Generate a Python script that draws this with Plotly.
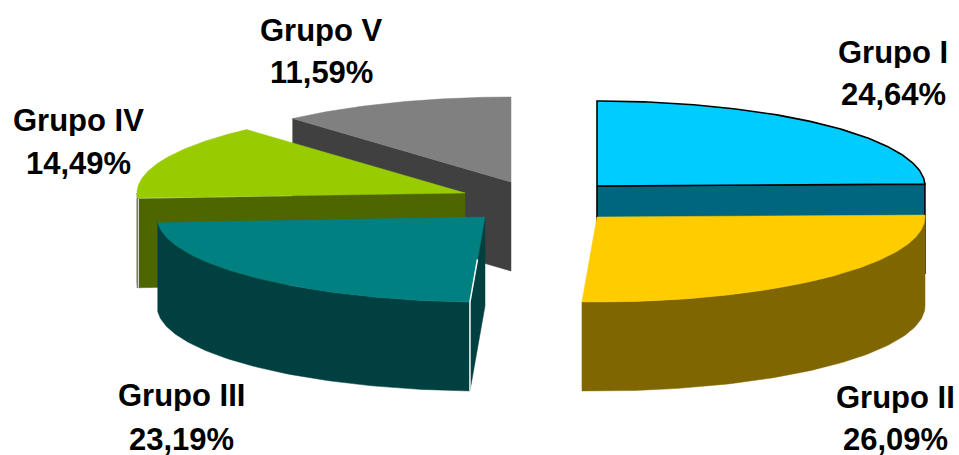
import numpy as np
import plotly.graph_objects as go

# Data
groups = ["Grupo I", "Grupo II", "Grupo III", "Grupo IV", "Grupo V"]
shares = [24.64, 26.09, 23.19, 14.49, 11.59]

# Styles
top_colors = ["#00CCFF", "#FFCC00", "#008080", "#99CC00", "#808080"]
wall_colors = ["#006680", "#806600", "#004040", "#4D6600", "#404040"]
outline_colors = ["#000000", None, None, None, None]
paint_order = [4, 3, 2, 0, 1]

# Pie layout, in page pixels
centres_x = [597, 597, 485, 465, 511]
centres_y = [186, 217, 217, 193, 182]
radius_x, radius_y, depth = 328, 85, 89
label_x = [893, 895, 181, 78, 321]
label_name_y = [52, 397, 395, 120, 30]
label_value_y = [94, 439, 439, 163, 72]

ends = np.cumsum(shares) / sum(shares) * 360
starts = ends - np.array(shares) / sum(shares) * 360


def rim(i, angles):
    t = np.radians(angles)
    return centres_x[i] + radius_x * np.sin(t), centres_y[i] - radius_y * np.cos(t)


fig = go.Figure()


def poly(x, y, color, name, line=None):
    fig.add_trace(go.Scatter(
        x=list(x) + [x[0]], y=list(y) + [y[0]], mode="lines", fill="toself",
        fillcolor=color, name=name, hoverinfo="name",
        line=dict(color=line or color, width=1.6 if line else 0.5),
    ))


for i in paint_order:
    a, b = starts[i], ends[i]
    cx, cy = centres_x[i], centres_y[i]
    name = groups[i]
    # straight cut faces
    for angle, visible in ((a, np.sin(np.radians(a)) < -1e-6), (b, np.sin(np.radians(b)) > 1e-6)):
        if visible:
            px, py = rim(i, np.array([angle]))
            poly([cx, px[0], px[0], cx], [cy, py[0], py[0] + depth, cy + depth],
                 wall_colors[i], name, outline_colors[i])
    # curved outer wall: only the part on the front half of the ellipse
    lo, hi = max(a, 90), min(b, 270)
    if hi > lo:
        th = np.linspace(lo, hi, 80)
        ox, oy = rim(i, th)
        poly(list(ox) + list(ox[::-1]), list(oy) + list(oy[::-1] + depth), wall_colors[i], name)
    # top face
    th = np.linspace(a, b, 120)
    tx, ty = rim(i, th)
    poly([cx] + list(tx), [cy] + list(ty), top_colors[i], name, outline_colors[i])

# thin light seams on the exploded slices
px, py = rim(2, np.array([starts[2]]))
mx = centres_x[2] + (px[0] - centres_x[2]) * 0.5
my = centres_y[2] + (py[0] - centres_y[2]) * 0.5
fig.add_trace(go.Scatter(x=[mx, px[0], px[0]], y=[my, py[0], py[0] + depth], mode="lines",
                         line=dict(color="#FFFFFF", width=1.5), hoverinfo="skip", showlegend=False))
px, py = rim(3, np.array([starts[3]]))
fig.add_trace(go.Scatter(x=[px[0] - 0.5, px[0] - 0.5], y=[py[0], py[0] + depth], mode="lines",
                         line=dict(color="#555533", width=1), hoverinfo="skip", showlegend=False))
fig.add_trace(go.Scatter(x=[px[0] + 0.5, px[0] + 0.5], y=[py[0], py[0] + depth], mode="lines",
                         line=dict(color="#FFFFFF", width=1), hoverinfo="skip", showlegend=False))

font = dict(family="Liberation Sans, Arial, sans-serif", size=31, color="#000000")
for i, g in enumerate(groups):
    fig.add_annotation(x=label_x[i], y=label_name_y[i], text=f"<b>{g}</b>", showarrow=False,
                       xanchor="center", yanchor="middle", font=font, height=32, borderpad=0)
    fig.add_annotation(x=label_x[i], y=label_value_y[i],
                       text="<b>" + f"{shares[i]:.2f}".replace(".", ",") + "%</b>", showarrow=False,
                       xanchor="center", yanchor="middle", font=font, height=32, borderpad=0)

fig.update_layout(
    width=959, height=455, margin=dict(l=0, r=0, t=0, b=0), showlegend=False,
    paper_bgcolor="#FFFFFF", plot_bgcolor="#FFFFFF",
    xaxis=dict(range=[0, 959], visible=False, fixedrange=True),
    yaxis=dict(range=[455, 0], visible=False, fixedrange=True),
)
fig.write_html("out.html", config=dict(displayModeBar=False),
               post_script="document.body.style.margin='0';document.body.style.overflow='hidden';")
